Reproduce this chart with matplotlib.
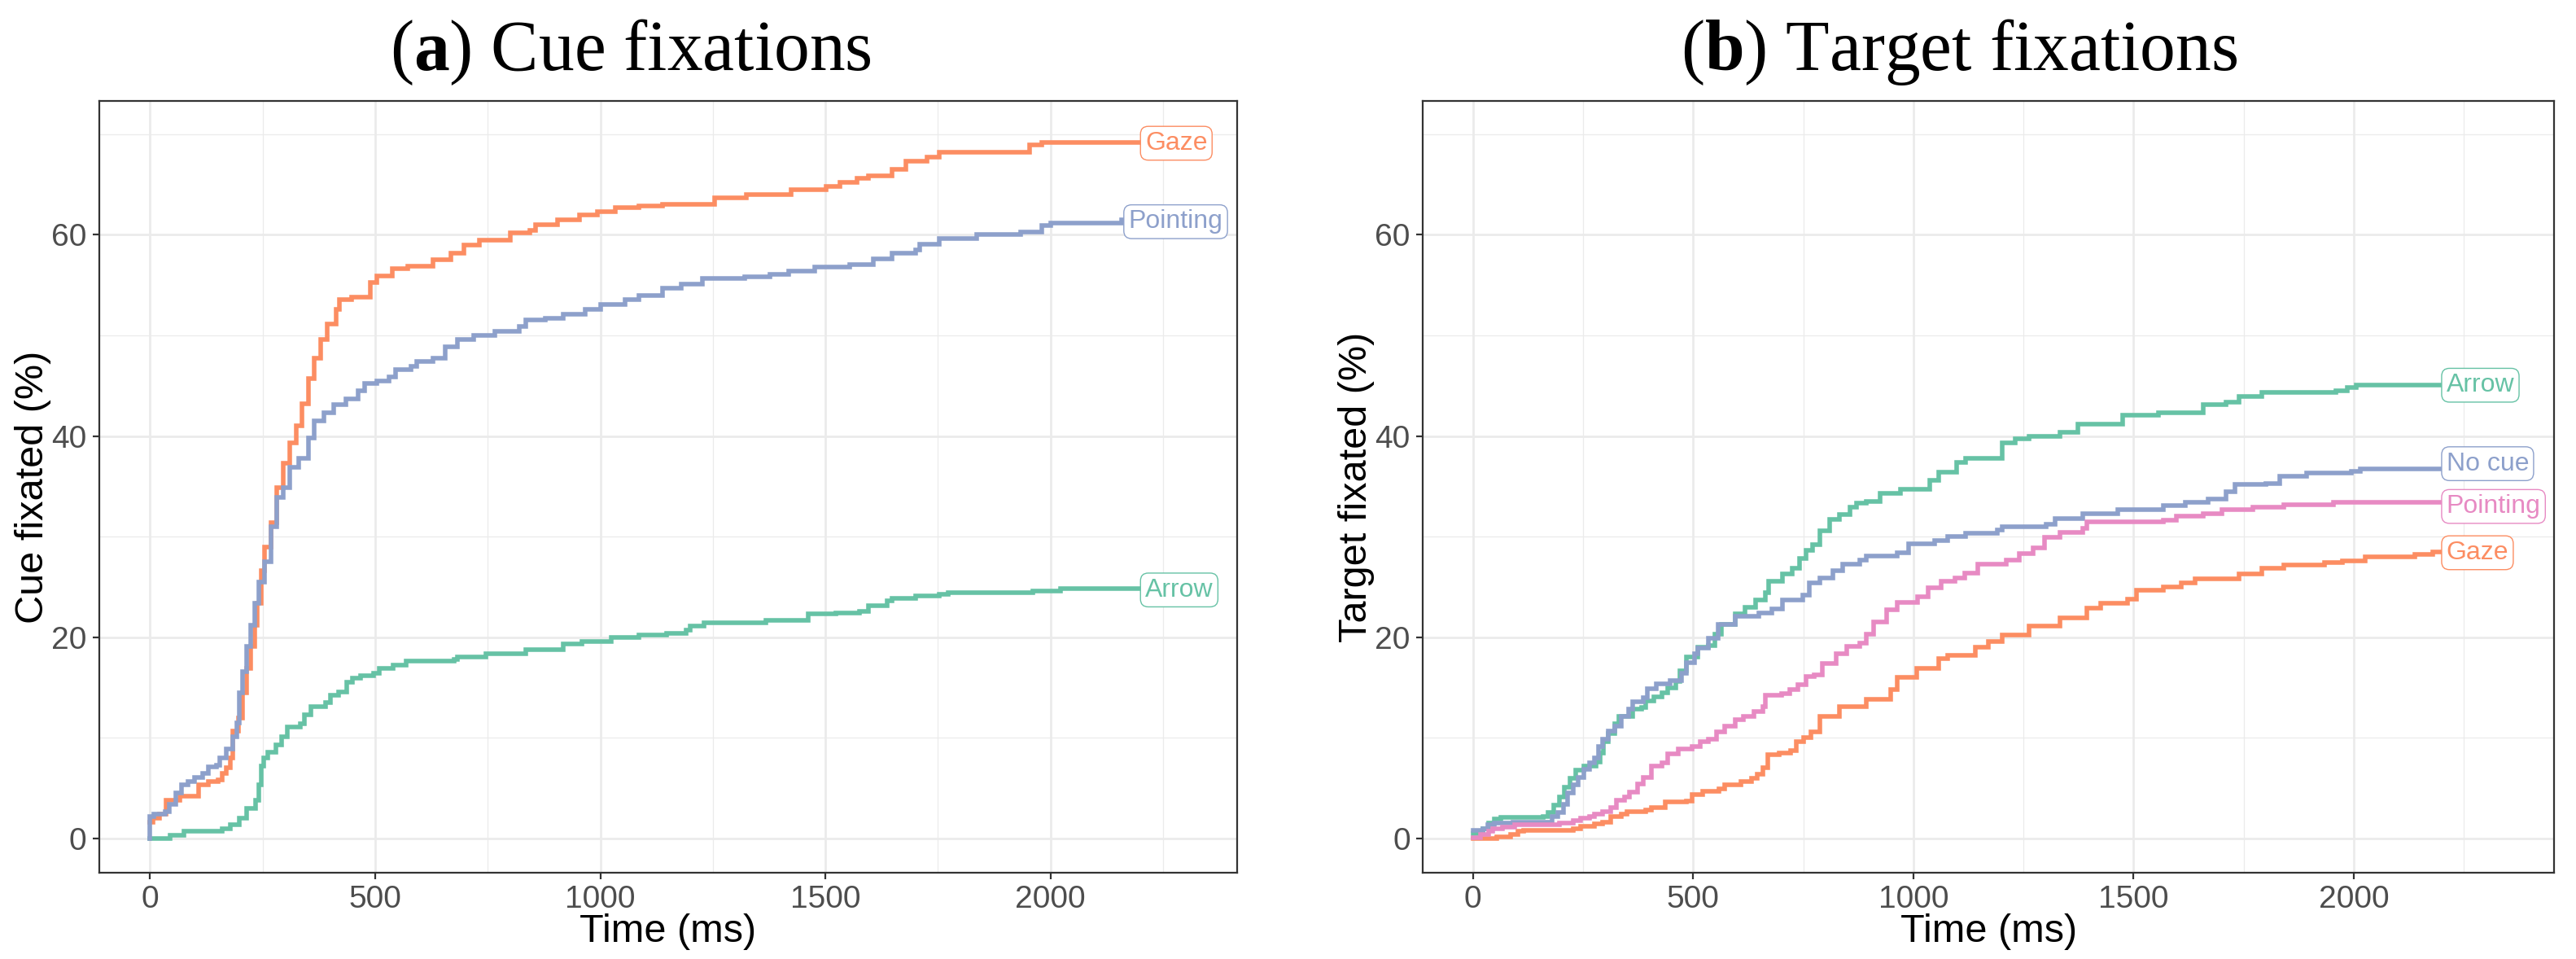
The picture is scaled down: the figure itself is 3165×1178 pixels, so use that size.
import matplotlib
matplotlib.use("Agg")
import matplotlib.pyplot as plt
from matplotlib.ticker import MultipleLocator

# colours (ColorBrewer Set2)
GREEN = "#66C2A5"
ORANGE = "#FC8D62"
BLUE = "#8DA0CB"
PINK = "#E78AC3"

# ---- panel (a): cue fixations ----
cue_arrow_t = [0, 45, 75, 160, 178, 199, 214, 235, 241, 247, 253, 262, 280, 292, 304, 334, 343, 358,
               389, 401, 419, 437, 449, 467, 497, 509, 539, 569, 676, 683, 745, 835, 918, 960, 1024,
               1086, 1148, 1190, 1200, 1231, 1367, 1461, 1523, 1575, 1596, 1637, 1648, 1700, 1752,
               1773, 1960, 2022, 2200]
cue_arrow_v = [0, 0.35, 0.7, 0.95, 1.35, 2.0, 3.0, 3.8, 5.3, 7.2, 8.0, 8.6, 9.3, 10.1, 11.1, 11.4,
               12.3, 13.1, 13.5, 14.2, 14.6, 15.5, 15.9, 16.2, 16.4, 16.9, 17.2, 17.6, 17.8, 18.0, 18.4,
               18.8, 19.3, 19.6, 20.0, 20.2, 20.4, 20.7, 21.1, 21.4, 21.7, 22.3, 22.4, 22.6, 23.1, 23.6,
               23.9, 24.1, 24.3, 24.4, 24.6, 24.8, 24.8]

cue_gaze_t = [0, 6, 21, 36, 66, 108, 130, 151, 160, 169, 178, 184, 196, 205, 214, 223, 232, 238, 247,
              254, 268, 282, 296, 310, 324, 338, 351, 365, 379, 393, 414, 420, 448, 490, 503, 538, 573,
              628, 669, 697, 732, 801, 843, 856, 905, 953, 994, 1034, 1086, 1138, 1253, 1325, 1424,
              1502, 1533, 1570, 1596, 1648, 1679, 1726, 1752, 1954, 1980, 2200]
cue_gaze_v = [1.6, 2.0, 2.4, 3.8, 4.2, 5.3, 5.7, 5.8, 6.5, 7.0, 8.0, 10.7, 12.0, 14.5, 16.9, 19.1,
              21.2, 23.4, 26.6, 29.0, 31.4, 34.9, 37.3, 39.3, 41.0, 43.2, 45.7, 47.7, 49.6, 51.1, 52.6,
              53.6, 53.8, 55.3, 55.9, 56.6, 56.9, 57.5, 58.2, 59.0, 59.5, 60.2, 60.4, 61.0, 61.5, 62.0,
              62.3, 62.7, 62.9, 63.0, 63.7, 64.0, 64.5, 64.8, 65.2, 65.6, 65.9, 66.5, 67.3, 67.7, 68.2,
              68.9, 69.2, 69.2]

cue_point_t = [0, 0, 9, 33, 42, 57, 69, 84, 99, 117, 130, 148, 154, 169, 184, 193, 199, 205, 214, 223,
               232, 241, 254, 268, 282, 296, 310, 331, 351, 365, 386, 407, 435, 462, 476, 503, 531,
               545, 580, 593, 628, 656, 683, 718, 766, 820, 835, 877, 918, 967, 1000, 1055, 1086, 1138,
               1180, 1227, 1321, 1377, 1419, 1476, 1554, 1606, 1648, 1700, 1710, 1752, 1835, 1934,
               1980, 2001, 2157, 2200]
cue_point_v = [0, 2.2, 2.4, 2.7, 3.4, 4.5, 5.3, 5.7, 6.1, 6.5, 7.1, 7.3, 8.0, 8.9, 10.1, 11.5, 14.5,
               16.6, 19.1, 21.2, 23.4, 25.5, 27.5, 31.0, 33.9, 34.9, 36.9, 37.8, 39.8, 41.5, 42.3, 43.1,
               43.7, 44.5, 45.2, 45.5, 45.9, 46.6, 46.9, 47.4, 47.7, 48.9, 49.6, 50.0, 50.4, 50.9, 51.5,
               51.7, 52.1, 52.6, 53.1, 53.6, 54.0, 54.7, 55.1, 55.7, 55.8, 56.1, 56.4, 56.8, 57.0, 57.6,
               58.2, 58.5, 59.1, 59.6, 60.0, 60.3, 60.9, 61.2, 61.5, 61.5]

cue_labels = ["Arrow", "Gaze", "Pointing"]
cue_colors = [GREEN, ORANGE, BLUE]
cue_label_x = [2200, 2200, 2163]
cue_label_y = [24.7, 69.1, 61.3]

# ---- panel (b): target fixations ----
tgt_arrow_t = [0, 23, 36, 48, 63, 159, 171, 183, 196, 208, 220, 233, 251, 279, 288, 297, 307, 322,
               331, 362, 384, 393, 411, 430, 442, 461, 470, 485, 511, 534, 549, 565, 595, 618, 641,
               664, 672, 703, 725, 741, 756, 771, 787, 810, 833, 856, 871, 894, 925, 971, 1038, 1058,
               1099, 1119, 1201, 1231, 1262, 1333, 1374, 1476, 1557, 1659, 1710, 1740, 1791, 1959,
               1985, 2005, 2200]
tgt_arrow_v = [0.5, 0.95, 1.5, 1.9, 2.1, 2.2, 2.6, 3.3, 4.1, 5.1, 6.0, 6.8, 7.2, 7.6, 8.5, 9.6, 10.4,
               11.4, 12.1, 12.9, 13.0, 13.7, 14.1, 14.5, 15.0, 15.6, 16.7, 18.0, 19.0, 19.2, 20.3, 21.3,
               22.3, 23.0, 23.7, 24.4, 25.6, 26.3, 26.9, 27.8, 28.6, 29.2, 30.6, 31.7, 32.2, 32.9, 33.3,
               33.5, 34.3, 34.7, 35.6, 36.4, 37.4, 37.8, 39.3, 39.7, 40.0, 40.4, 41.2, 42.1, 42.3, 43.1,
               43.4, 43.9, 44.3, 44.5, 44.8, 45.1, 45.1]

tgt_gaze_t = [0, 54, 85, 103, 116, 227, 245, 276, 294, 313, 337, 350, 393, 405, 436, 485, 498, 522,
              559, 571, 608, 633, 645, 658, 670, 695, 722, 735, 750, 768, 787, 833, 894, 948, 963, 1007,
              1058, 1078, 1140, 1170, 1201, 1262, 1333, 1394, 1425, 1486, 1506, 1567, 1608, 1639, 1740,
              1791, 1842, 1934, 1975, 2026, 2138, 2179, 2200]
tgt_gaze_v = [0, 0.15, 0.4, 0.7, 0.8, 0.95, 1.2, 1.45, 1.6, 2.2, 2.4, 2.7, 2.8, 3.1, 3.6, 3.7, 4.4, 4.7,
              4.9, 5.3, 5.7, 6.0, 6.4, 7.0, 8.3, 8.5, 8.7, 9.6, 10.0, 10.6, 12.1, 13.1, 13.8, 14.8, 16.0,
              16.9, 17.9, 18.2, 19.0, 19.6, 20.2, 21.1, 21.9, 22.9, 23.4, 23.8, 24.7, 25.0, 25.4, 25.8,
              26.3, 26.9, 27.2, 27.4, 27.6, 28.0, 28.2, 28.5, 28.5]

tgt_nocue_t = [0, 23, 33, 48, 91, 180, 193, 205, 214, 227, 239, 251, 264, 276, 285, 294, 307, 322,
               337, 353, 362, 387, 396, 417, 448, 473, 485, 504, 511, 534, 557, 595, 649, 679, 703,
               749, 764, 787, 817, 840, 879, 894, 963, 990, 1048, 1078, 1119, 1190, 1201, 1302, 1322,
               1384, 1465, 1567, 1618, 1670, 1710, 1731, 1801, 1832, 1893, 1995, 2015, 2200]
tgt_nocue_v = [0.8, 0.95, 1.4, 1.5, 1.6, 2.2, 2.6, 3.4, 4.5, 5.3, 6.1, 6.9, 7.5, 8.0, 9.1, 9.9, 10.7,
               11.2, 12.1, 12.9, 13.6, 14.0, 14.9, 15.4, 15.7, 16.4, 17.5, 18.4, 18.9, 19.9, 21.3, 22.1,
               22.4, 22.8, 23.7, 24.2, 25.4, 25.9, 26.6, 27.3, 27.7, 28.1, 28.4, 29.3, 29.6, 30.0, 30.3,
               30.7, 31.0, 31.2, 31.8, 32.3, 32.7, 33.1, 33.4, 33.7, 34.5, 35.2, 35.3, 36.0, 36.3, 36.5,
               36.7, 36.7]

tgt_point_t = [0, 17, 36, 45, 67, 94, 196, 227, 245, 264, 276, 294, 313, 325, 344, 356, 374, 387, 405,
               430, 442, 467, 498, 516, 534, 553, 571, 596, 615, 639, 658, 664, 701, 719, 738, 756, 775,
               794, 825, 848, 879, 894, 910, 940, 963, 1010, 1033, 1063, 1094, 1117, 1146, 1211, 1241,
               1272, 1297, 1333, 1384, 1394, 1567, 1598, 1659, 1700, 1771, 1842, 1954, 2200]
tgt_point_v = [0.1, 0.4, 0.7, 0.95, 1.1, 1.35, 1.5, 1.8, 2.0, 2.2, 2.4, 2.7, 3.1, 3.8, 4.1, 4.6, 5.4,
               6.1, 7.2, 7.5, 8.4, 8.9, 9.1, 9.6, 9.9, 10.6, 11.2, 11.8, 12.1, 12.6, 13.1, 14.2, 14.4,
               14.8, 15.3, 16.1, 16.3, 17.4, 18.4, 19.1, 19.4, 20.3, 21.5, 22.7, 23.5, 24.0, 24.9, 25.6,
               25.9, 26.4, 27.3, 27.7, 28.3, 28.9, 29.9, 30.4, 30.8, 31.5, 31.6, 32.0, 32.3, 32.7, 32.9,
               33.2, 33.4, 33.4]

tgt_labels = ["Arrow", "Gaze", "No cue", "Pointing"]
tgt_colors = [GREEN, ORANGE, BLUE, PINK]
tgt_label_x = [2200, 2200, 2200, 2200]
tgt_label_y = [45.05, 28.4, 37.25, 33.0]

plt.rcParams["font.family"] = ["Liberation Sans", "DejaVu Sans"]
plt.rcParams["mathtext.fontset"] = "custom"
plt.rcParams["mathtext.rm"] = "Liberation Serif"
plt.rcParams["mathtext.bf"] = "Liberation Serif:bold"

GRID = "#EBEBEB"
DARK = "#333333"


def style_axes(ax, xlim, ylabel):
    ax.set_xlim(*xlim)
    ax.set_ylim(-3.4, 73.3)
    ax.xaxis.set_major_locator(MultipleLocator(500))
    ax.xaxis.set_minor_locator(MultipleLocator(250))
    ax.yaxis.set_major_locator(MultipleLocator(20))
    ax.yaxis.set_minor_locator(MultipleLocator(10))
    ax.grid(which="major", color=GRID, linewidth=2.0, zorder=0)
    ax.grid(which="minor", color=GRID, linewidth=0.9, zorder=0)
    ax.set_axisbelow(True)
    ax.tick_params(which="major", length=6, width=1.6, color=DARK, labelsize=28,
                   labelcolor="#4D4D4D", pad=5)
    ax.tick_params(which="minor", length=0)
    for spine in ax.spines.values():
        spine.set_color(DARK)
        spine.set_linewidth(1.6)
    ax.set_xlabel("Time (ms)", fontsize=35, labelpad=-1)
    ax.set_ylabel(ylabel, fontsize=35, labelpad=0)


def draw_panel(ax, series, colors, labels, label_x, label_y):
    for (t, v), color in zip(series, colors):
        ax.plot(t, v, drawstyle="steps-post", color=color, linewidth=4.0,
                solid_joinstyle="miter", zorder=3)
    for name, color, lx, ly in zip(labels, colors, label_x, label_y):
        ax.annotate(name, xy=(lx, ly), xytext=(4, 0), textcoords="offset points",
                    ha="left", va="center", fontsize=23, color=color, zorder=5,
                    bbox=dict(boxstyle="round,pad=0.18,rounding_size=0.3",
                              fc="white", ec=color, lw=1.0))


fig = plt.figure(figsize=(31.65, 11.78), dpi=100)
ax_a = fig.add_axes([0.0385, 0.090, 0.4417, 0.8047])
ax_b = fig.add_axes([0.5523, 0.090, 0.4392, 0.8047])

style_axes(ax_a, (-113, 2414), "Cue fixated (%)")
style_axes(ax_b, (-114, 2455), "Target fixated (%)")

draw_panel(ax_a,
           [(cue_arrow_t, cue_arrow_v), (cue_gaze_t, cue_gaze_v), (cue_point_t, cue_point_v)],
           cue_colors, cue_labels, cue_label_x, cue_label_y)
draw_panel(ax_b,
           [(tgt_arrow_t, tgt_arrow_v), (tgt_gaze_t, tgt_gaze_v),
            (tgt_nocue_t, tgt_nocue_v), (tgt_point_t, tgt_point_v)],
           tgt_colors, tgt_labels, tgt_label_x, tgt_label_y)

fig.text(0.245, 0.946, r"($\mathbf{a}$) Cue fixations", fontsize=63, ha="center", va="center",
         family="Liberation Serif")
fig.text(0.7605, 0.946, r"($\mathbf{b}$) Target fixations", fontsize=63, ha="center", va="center",
         family="Liberation Serif")

fig.savefig("out.png", dpi=100, facecolor="white")
